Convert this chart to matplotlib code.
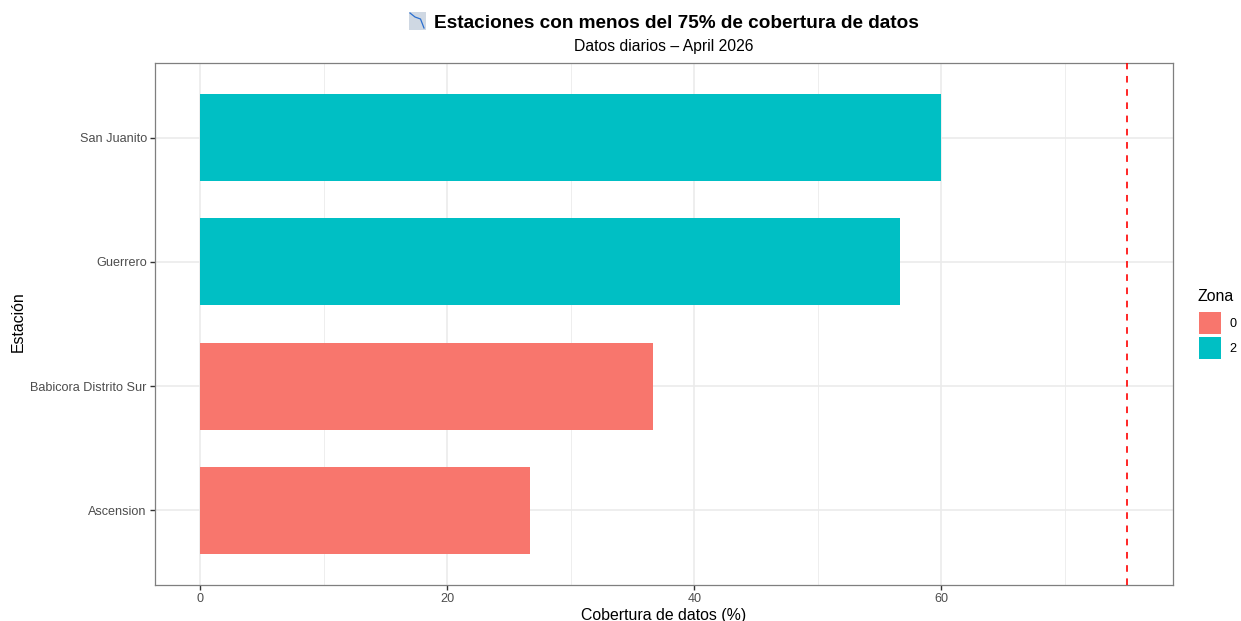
import matplotlib
matplotlib.use("Agg")
import matplotlib.pyplot as plt
from matplotlib.lines import Line2D
from matplotlib.patches import Patch, Rectangle

plt.rcParams["font.family"] = ["Liberation Sans", "DejaVu Sans"]

# data
stations = ["Ascension", "Babicora Distrito Sur", "Guerrero", "San Juanito"]
coverage = [26.67, 36.67, 56.67, 60.0]
zones = ["0", "0", "2", "2"]
zone_colors = {"0": "#F8766D", "2": "#00BFC4"}
threshold = 75
major_ticks = [0, 20, 40, 60]
minor_ticks = [10, 30, 50, 70]

W, H = 1241, 621
fig = plt.figure(figsize=(W / 100, H / 100), dpi=100)
ax = fig.add_axes([155 / W, 1 - 585 / H, (1173 - 155) / W, (585 - 63) / H])

positions = list(range(len(stations)))
ax.barh(positions, coverage, height=0.7, color=[zone_colors[z] for z in zones], zorder=2)
ax.axvline(threshold, color="#FF0000", linewidth=1.4, alpha=0.85, dashes=(3.4, 3.4), zorder=3)

ax.set_xlim(-3.68, 78.75)
ax.set_ylim(-0.6, 3.6)
ax.set_yticks(positions)
ax.set_yticklabels(stations)
ax.set_xticks(major_ticks)
ax.set_xticks(minor_ticks, minor=True)

ax.grid(True, which="major", color="#EBEBEB", linewidth=1.2, zorder=0)
ax.grid(True, which="minor", axis="x", color="#EBEBEB", linewidth=0.6, zorder=0)
ax.set_axisbelow(True)
ax.tick_params(axis="both", which="major", length=3.5, width=1.0, color="#333333",
               labelcolor="#4D4D4D", labelsize=9.05, pad=2.4)
ax.tick_params(axis="x", which="minor", length=0)
for spine in ax.spines.values():
    spine.set_color("#7F7F7F")
    spine.set_linewidth(0.9)

fig.text(663.5 / W, 1 - 620 / H, "Cobertura de datos (%)", ha="center", va="baseline",
         fontsize=11.4, color="black")
fig.text(18 / W, 1 - 322 / H, "Estación", rotation=90, ha="center", va="center",
         fontsize=11.4, color="black")

# title, with the chart emoji drawn by hand since no installed font has it
fig.text(676.5 / W, 1 - 28 / H, "Estaciones con menos del 75% de cobertura de datos",
         ha="center", va="baseline", fontsize=13.73, fontweight="bold", color="black")
fig.text(664 / W, 1 - 51 / H, "Datos diarios – April 2026", ha="center", va="baseline",
         fontsize=11.3, color="black")

icon_box = (409, 12, 16.5, 18)
fig.add_artist(Rectangle((icon_box[0] / W, 1 - (icon_box[1] + icon_box[3]) / H),
                         icon_box[2] / W, icon_box[3] / H,
                         transform=fig.transFigure, facecolor="#CFD8E3", edgecolor="none"))
icon_x = [410, 415, 420.5, 424]
icon_y = [13, 17, 19, 28]
fig.add_artist(Line2D([x / W for x in icon_x], [1 - y / H for y in icon_y],
                      transform=fig.transFigure, color="#2A6FD0", linewidth=0.9))

handles = [Patch(facecolor=zone_colors[z], edgecolor="none", label=z) for z in ["0", "2"]]
leg = fig.legend(handles=handles, title="Zona", loc="upper left",
                 bbox_to_anchor=(1197 / W, 1 - 288.5 / H), frameon=False, fontsize=9.05,
                 title_fontsize=11.4, handlelength=1.75, handleheight=2.315, handletextpad=0.7,
                 labelspacing=0.24, borderpad=0, borderaxespad=0)
leg._legend_box.align = "left"
leg._legend_box.sep = 4.56
leg._legend_handle_box.pad = 1.44  # nudges the swatches right of the title

fig.savefig("out.png", dpi=100)
